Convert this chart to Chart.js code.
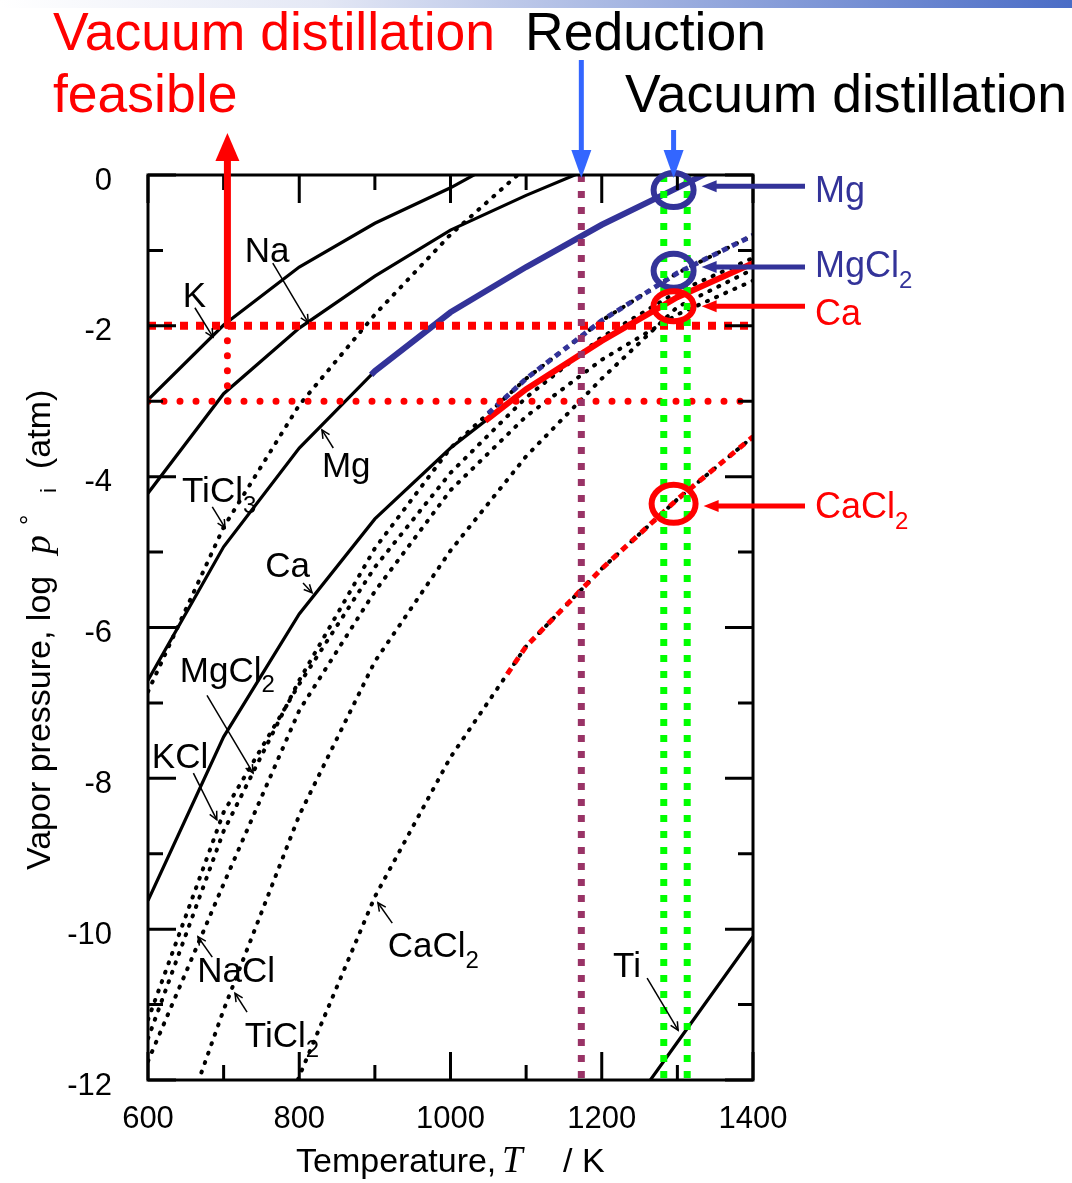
<!DOCTYPE html>
<html>
<head>
<meta charset="utf-8">
<title>Vapor pressure of metals and chlorides</title>
<script src="https://cdn.jsdelivr.net/npm/chart.js@4.4.1/dist/chart.umd.min.js"></script>
<style>
  html, body { margin: 0; padding: 0; background: #fff; }
  #box { position: relative; width: 1072px; height: 1183px; }
</style>
</head>
<body>
<div id="box"><canvas id="vp"></canvas></div>
<script>
// log10 of vapour pressure (atm) against temperature (K), every 100 K
const K     = [[600,-2.98],[700,-1.99],[800,-1.22],[900,-0.64],[1000,-0.17],[1100,0.38]];
const NA    = [[600,-4.22],[700,-2.9],[800,-2.03],[900,-1.34],[1000,-0.73],[1100,-0.27],[1200,0.15]];
const MG    = [[600,-6.7],[700,-4.93],[800,-3.62],[900,-2.6],[1000,-1.82],[1100,-1.22],[1200,-0.66],[1300,-0.17],[1400,0.33]];
const CA    = [[600,-9.62],[700,-7.45],[800,-5.82],[900,-4.56],[1000,-3.62],[1100,-2.84],[1200,-2.2],[1300,-1.62],[1400,-1.17]];
const TI    = [[1200,-12.9],[1300,-11.5],[1400,-10.1]];
const TICL3 = [[600,-6.85],[700,-4.67],[800,-3.05],[900,-1.85],[1000,-0.79],[1100,0.1]];
const MGCL2 = [[600,-11.45],[700,-8.7],[800,-6.7],[900,-4.95],[1000,-3.62],[1100,-2.7],[1200,-1.93],[1300,-1.3],[1400,-0.8]];
const KCL   = [[600,-11.2],[700,-8.45],[800,-6.75],[900,-5.2],[1000,-3.95],[1100,-2.95],[1200,-2.15],[1300,-1.55],[1400,-1.1]];
const NACL  = [[600,-11.75],[700,-9.4],[800,-7.1],[900,-5.52],[1000,-4.18],[1100,-3.2],[1200,-2.45],[1300,-1.85],[1400,-1.4]];
const TICL2 = [[600,-13.9],[700,-11.07],[800,-8.49],[900,-6.45],[1000,-4.98],[1100,-3.73],[1200,-2.7],[1300,-1.75],[1400,-1.25]];
const CACL2 = [[700,-14.6],[800,-11.95],[900,-9.57],[1000,-7.72],[1100,-6.25],[1200,-5.22],[1300,-4.3],[1400,-3.47]];

// process windows
const REDUCTION_T = 1173;
const DISTILL_T   = [1282, 1313];
const CIRCLE_T    = 1295;
const FEASIBLE_T  = 705;
const LIMIT_LOGP  = [-2, -3];

const xTickLabels = [600, 800, 1000, 1200, 1400];
const yTickLabels = [0, -2, -4, -6, -8, -10, -12];

const SANS  = '"Liberation Sans", Arial, sans-serif';
const SERIF = '"Liberation Serif", "Times New Roman", serif';
const BLUE  = '#333399';
const RED   = '#ff0000';

// part of a polyline from temperature t0 onward
function tail(series, t0) {
  const out = [];
  series.forEach(([t, v], i) => {
    if (t < t0) return;
    if (!out.length && i > 0) {
      const [ta, va] = series[i - 1];
      out.push([t0, va + (v - va) * (t0 - ta) / (t - ta)]);
    }
    out.push([t, v]);
  });
  return out;
}

const pts = s => s.map(([x, y]) => ({x, y}));
const solid = (s, color, w, order) => ({
  data: pts(s), borderColor: color, borderWidth: w, pointRadius: 0, tension: 0, order
});
const dashed = (s, color, w, dash, cap, order) => ({
  data: pts(s), borderColor: color, borderWidth: w, borderDash: dash,
  borderCapStyle: cap, pointRadius: 0, tension: 0, order
});
const vline = t => [[t, 0], [t, -12]];
const hline = v => [[600, v], [1400, v]];

const dots = [1, 9];
const datasets = [
  solid(K, '#000', 3.2, 30),
  solid(NA, '#000', 3.2, 30),
  solid(MG, '#000', 3.2, 30),
  solid(CA, '#000', 3.2, 30),
  solid(TI, '#000', 3.2, 30),
  dashed(TICL3, '#000', 4, dots, 'round', 30),
  dashed(MGCL2, '#000', 4, dots, 'round', 30),
  dashed(KCL, '#000', 4, dots, 'round', 30),
  dashed(NACL, '#000', 4, dots, 'round', 30),
  dashed(TICL2, '#000', 4, dots, 'round', 30),
  dashed(CACL2, '#000', 4, dots, 'round', 30),
  // highlighted stretches
  solid(tail(MG, 895), BLUE, 6, 20),
  dashed(tail(MGCL2, 1050), BLUE, 5, [6, 5], 'butt', 20),
  solid(tail(CA, 1046), RED, 6, 20),
  dashed(tail(CACL2, 1075), RED, 5, [7, 6], 'butt', 20),
  // pressure limits and temperature windows
  dashed(hline(LIMIT_LOGP[0]), RED, 8, [8, 8], 'butt', 10),
  dashed(hline(LIMIT_LOGP[1]), RED, 7, [0, 16], 'round', 10),
  dashed([[FEASIBLE_T, LIMIT_LOGP[0]], [FEASIBLE_T, LIMIT_LOGP[1]]], RED, 7, [0, 15], 'round', 10),
  dashed(vline(REDUCTION_T), '#993366', 7, [7, 9], 'butt', 5),
  dashed(vline(DISTILL_T[0]), '#00ff00', 7, [7, 9], 'butt', 5),
  dashed(vline(DISTILL_T[1]), '#00ff00', 7, [7, 9], 'butt', 5)
];

// labels on the curves: anchor of the text, then the leader arrow
const curveLabels = [
  {text: 'K',    at: [646, -1.75],  from: [662, -1.76],  to: [686, -2.15]},
  {text: 'Na',   at: [728, -1.15],  from: [765, -1.17],  to: [812, -1.96]},
  {text: 'Mg',   at: [830, -4.0],   from: [845, -3.62],  to: [830, -3.38]},
  {text: 'TiCl', sub: '3', at: [645, -4.34], from: [685, -4.4], to: [702, -4.68]},
  {text: 'Ca',   at: [755, -5.33],  from: [805, -5.41],  to: [817, -5.54]},
  {text: 'MgCl', sub: '2', at: [642, -6.72], from: [678, -6.9], to: [739, -7.93]},
  {text: 'KCl',  at: [605, -7.86],  from: [660, -7.93],  to: [691, -8.55]},
  {text: 'NaCl', at: [665, -10.7],  from: [685, -10.37], to: [666, -10.1]},
  {text: 'TiCl', sub: '2', at: [728, -11.56], from: [731, -11.1], to: [715, -10.85]},
  {text: 'CaCl', sub: '2', at: [917, -10.37], from: [923, -9.92], to: [904, -9.65]},
  {text: 'Ti',   at: [1215, -10.63], from: [1260, -10.65], to: [1301, -11.34]}
];

// ringed points at the distillation temperature, with their names on the right
// ring = centre, arrow = level of the pointer, label = text baseline (log p units)
const rings = [
  {color: BLUE, text: 'Mg',   ring: -0.2,  arrow: -0.15, label: -0.36, rx: 20, ry: 17},
  {color: BLUE, text: 'MgCl', sub: '2', ring: -1.27, arrow: -1.22, label: -1.35, rx: 20, ry: 17},
  {color: RED,  text: 'Ca',   ring: -1.74, arrow: -1.74, label: -1.99, rx: 20, ry: 15},
  {color: RED,  text: 'CaCl', sub: '2', ring: -4.36, arrow: -4.39, label: -4.55, rx: 22, ry: 19}
];

function filledHead(ctx, x1, y1, x2, y2, len, half) {
  const a = Math.atan2(y2 - y1, x2 - x1), c = Math.cos(a), s = Math.sin(a);
  ctx.beginPath();
  ctx.moveTo(x2, y2);
  ctx.lineTo(x2 - len * c + half * s, y2 - len * s - half * c);
  ctx.lineTo(x2 - len * c - half * s, y2 - len * s + half * c);
  ctx.closePath();
  ctx.fill();
}
function openHead(ctx, x1, y1, x2, y2, len, spread) {
  const a = Math.atan2(y2 - y1, x2 - x1);
  ctx.beginPath();
  ctx.moveTo(x2 - len * Math.cos(a - spread), y2 - len * Math.sin(a - spread));
  ctx.lineTo(x2, y2);
  ctx.lineTo(x2 - len * Math.cos(a + spread), y2 - len * Math.sin(a + spread));
  ctx.stroke();
}
function textWithSub(ctx, text, sub, x, y, size) {
  ctx.font = size + 'px ' + SANS;
  ctx.fillText(text, x, y);
  if (sub) {
    const w = ctx.measureText(text).width;
    ctx.font = Math.round(size * 0.68) + 'px ' + SANS;
    ctx.fillText(sub, x + w, y + size * 0.3);
  }
}

const annotate = {
  id: 'annotate',
  beforeDraw(chart) {
    const {ctx, width, height} = chart;
    ctx.save();
    ctx.fillStyle = '#fff';
    ctx.fillRect(0, 0, width, height);
    const g = ctx.createLinearGradient(0, 0, width, 0);
    g.addColorStop(0, '#ffffff');
    g.addColorStop(0.3, '#e4e8f5');
    g.addColorStop(1, '#4a6cc6');
    ctx.fillStyle = g;
    ctx.fillRect(0, 0, width, 8);
    ctx.restore();
  },
  afterDatasetsDraw(chart) {
    const {ctx, chartArea: a, scales: {x, y}} = chart;
    const X = t => x.getPixelForValue(t), Y = v => y.getPixelForValue(v);
    ctx.save();

    // frame with inward ticks on all four sides
    ctx.strokeStyle = '#000';
    ctx.lineWidth = 3;
    ctx.strokeRect(a.left, a.top, a.right - a.left, a.bottom - a.top);
    ctx.beginPath();
    for (let t = 600; t <= 1400; t += 100) {
      const px = X(t), len = t % 200 === 0 ? 28 : 15;
      ctx.moveTo(px, a.bottom); ctx.lineTo(px, a.bottom - len);
      ctx.moveTo(px, a.top); ctx.lineTo(px, a.top + len);
    }
    for (let v = -12; v <= 0; v++) {
      const py = Y(v), len = v % 2 === 0 ? 28 : 15;
      ctx.moveTo(a.left, py); ctx.lineTo(a.left + len, py);
      ctx.moveTo(a.right, py); ctx.lineTo(a.right - len, py);
    }
    ctx.stroke();

    // curve names with thin leader arrows
    ctx.fillStyle = '#000';
    ctx.textAlign = 'left';
    ctx.textBaseline = 'alphabetic';
    curveLabels.forEach(l => {
      textWithSub(ctx, l.text, l.sub, X(l.at[0]), Y(l.at[1]), 35);
      const x1 = X(l.from[0]), y1 = Y(l.from[1]), x2 = X(l.to[0]), y2 = Y(l.to[1]);
      ctx.lineWidth = 1.5;
      ctx.beginPath(); ctx.moveTo(x1, y1); ctx.lineTo(x2, y2); ctx.stroke();
      openHead(ctx, x1, y1, x2, y2, 9, 0.45);
    });

    // rings and side labels
    const cx = X(CIRCLE_T);
    rings.forEach(r => {
      const cy = Y(r.ring), ay = Y(r.arrow);
      ctx.strokeStyle = r.color;
      ctx.fillStyle = r.color;
      ctx.lineWidth = 6;
      ctx.beginPath(); ctx.ellipse(cx, cy, r.rx, r.ry, 0, 0, Math.PI * 2); ctx.stroke();
      const tipX = cx + r.rx + 8, endX = a.right + 52;
      ctx.lineWidth = 5;
      ctx.beginPath(); ctx.moveTo(endX, ay); ctx.lineTo(tipX + 12, ay); ctx.stroke();
      filledHead(ctx, endX, ay, tipX, ay, 15, 6);
      textWithSub(ctx, r.text, r.sub, a.right + 62, Y(r.label), 36);
    });

    // feasibility arrow rising from the -2 limit
    const fx = X(FEASIBLE_T), fy = Y(LIMIT_LOGP[0]);
    ctx.strokeStyle = RED; ctx.fillStyle = RED; ctx.lineWidth = 7;
    ctx.beginPath(); ctx.moveTo(fx, fy); ctx.lineTo(fx, a.top - 20); ctx.stroke();
    filledHead(ctx, fx, fy, fx, a.top - 42, 28, 12);

    // process arrows pointing down to the axis top
    ctx.strokeStyle = '#3366ff'; ctx.fillStyle = '#3366ff'; ctx.lineWidth = 5;
    [[REDUCTION_T, 60], [CIRCLE_T, 130]].forEach(([t, top]) => {
      const px = X(t);
      ctx.beginPath(); ctx.moveTo(px, top); ctx.lineTo(px, a.top - 20); ctx.stroke();
      filledHead(ctx, px, top, px, a.top + 3, 28, 10);
    });

    ctx.restore();
  },
  afterDraw(chart) {
    const {ctx} = chart;
    ctx.save();
    ctx.textAlign = 'left';
    ctx.textBaseline = 'alphabetic';

    // headings
    ctx.font = '53.5px ' + SANS;
    ctx.fillStyle = RED;
    ctx.fillText('Vacuum distillation', 53, 50);
    ctx.fillText('feasible', 53, 112);
    ctx.fillStyle = '#000';
    ctx.fillText('Reduction', 525, 50);
    ctx.fillText('Vacuum distillation', 625, 112);

    // x axis title
    ctx.font = '34px ' + SANS;
    ctx.fillText('Temperature,', 296, 1172);
    ctx.font = 'italic 37px ' + SERIF;
    ctx.fillText('T', 502, 1172);
    ctx.font = '34px ' + SANS;
    ctx.fillText('/ K', 563, 1172);

    // y axis title, reading upward
    ctx.translate(50, 870);
    ctx.rotate(-Math.PI / 2);
    ctx.font = '34px ' + SANS;
    ctx.fillText('Vapor pressure, log', 0, 0);
    ctx.font = 'italic 38px ' + SERIF;
    ctx.fillText('p', 316, 0);
    ctx.font = '26px ' + SANS;
    ctx.fillText('\u00b0', 345, -12);
    ctx.font = '22px ' + SANS;
    ctx.fillText('i', 377, 6);
    ctx.font = '34px ' + SANS;
    ctx.fillText('(atm)', 401, 0);
    ctx.restore();
  }
};

new Chart(document.getElementById('vp'), {
  type: 'line',
  data: {datasets},
  plugins: [annotate],
  options: {
    responsive: true,
    maintainAspectRatio: false,
    devicePixelRatio: 1,
    animation: false,
    events: [],
    layout: {padding: {top: 175, right: 319, bottom: 0, left: 0}},
    plugins: {legend: {display: false}, tooltip: {enabled: false}},
    scales: {
      x: {
        type: 'linear', min: 600, max: 1400,
        grid: {display: false, drawTicks: false},
        border: {display: false},
        ticks: {
          stepSize: 100, autoSkip: false, maxRotation: 0, padding: 21,
          color: '#000', font: {family: SANS, size: 31},
          callback: v => xTickLabels.includes(v) ? String(v) : ''
        },
        afterFit: s => { s.height = 103; }
      },
      y: {
        type: 'linear', min: -12, max: 0,
        grid: {display: false, drawTicks: false},
        border: {display: false},
        ticks: {
          stepSize: 1, autoSkip: false, padding: 36, labelOffset: 6,
          color: '#000', font: {family: SANS, size: 31},
          callback: v => yTickLabels.includes(v) ? String(v) : ''
        },
        afterFit: s => { s.width = 148; }
      }
    }
  }
});
</script>
</body>
</html>
